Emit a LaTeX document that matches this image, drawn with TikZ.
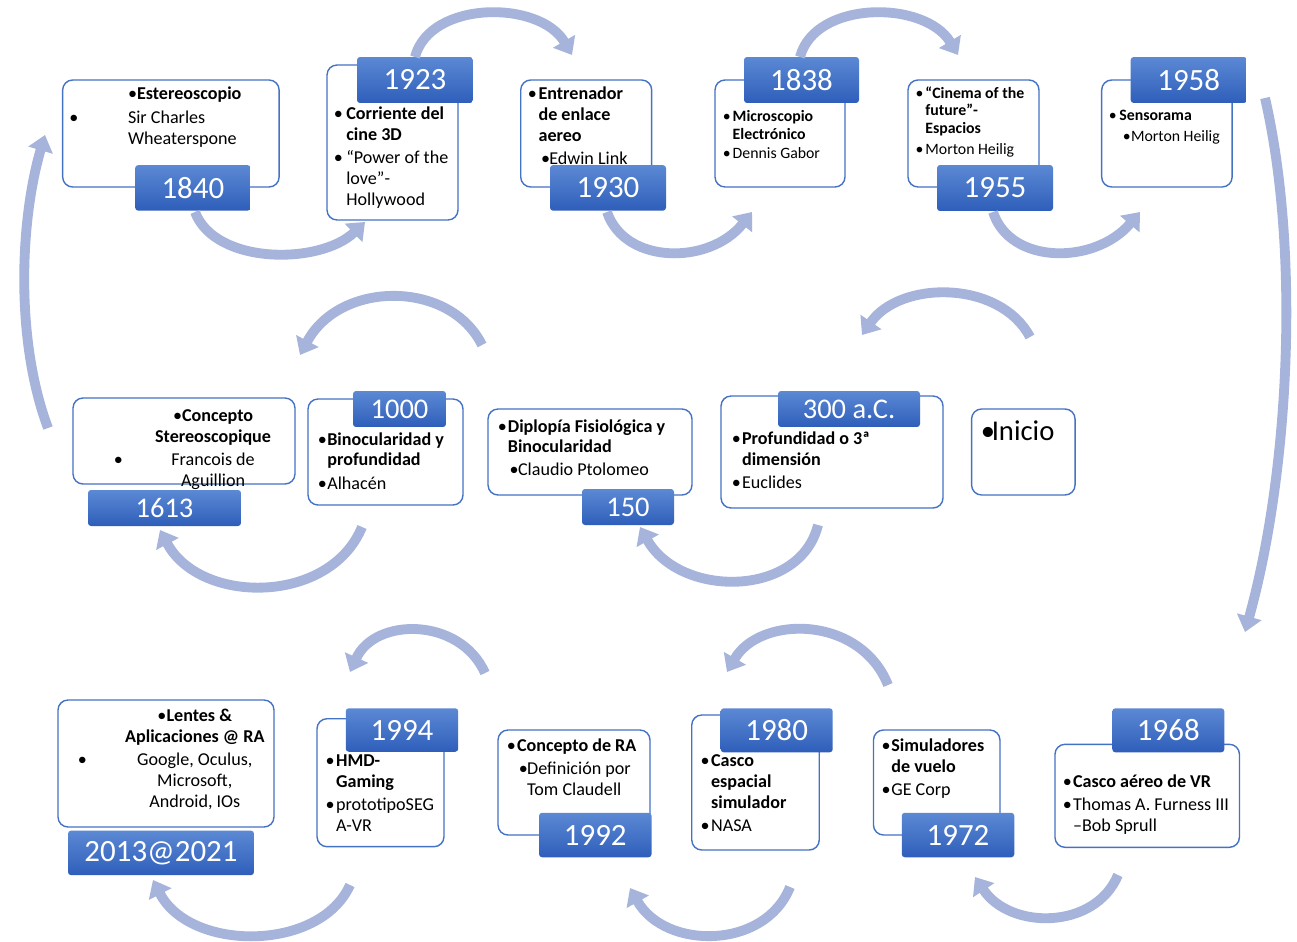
\documentclass[tikz,border=0pt]{standalone}
\usepackage{fontspec}
\setmainfont{Carlito}
\usetikzlibrary{arrows.meta}
\definecolor{cardblue}{RGB}{68,114,196}
\definecolor{yrtop}{RGB}{92,137,212}
\definecolor{yrbot}{RGB}{46,94,186}
\definecolor{arcblue}{RGB}{166,179,218}

\begin{document}
\begin{tikzpicture}[x=0.02cm, y=-0.02cm,
  card/.style={draw=cardblue, line width=0.8pt, fill=white, rounded corners=0.2cm, inner sep=0pt},
  yr/.style={rounded corners=0.06cm, top color=yrtop, bottom color=yrbot, text=white, inner sep=0pt, font=\fontsize{17.6}{20}\selectfont},
  yrs/.style={yr, font=\fontsize{16.2}{18}\selectfont},
  txt/.style={anchor=base west, inner sep=0pt, font=\fontsize{10.3}{11.8}\selectfont},
  txts/.style={txt, font=\fontsize{9}{9.9}\selectfont},
  arc/.style={line width=5.6pt, draw=arcblue, -{Triangle[width=14pt,length=9pt]}}
]
\useasboundingbox (0,0) rectangle (1297,942);

% fila 1
\node[card, minimum width=4.33cm, minimum height=2.14cm] (c1840) at (170.9,133.5) {};
\node[card, minimum width=2.62cm, minimum height=3.10cm] (c1923) at (392.5,142.5) {};
\node[card, minimum width=2.62cm, minimum height=2.14cm] (c1930) at (586.2,133.5) {};
\node[card, minimum width=2.60cm, minimum height=2.14cm] (c1838) at (780,133.5) {};
\node[card, minimum width=2.62cm, minimum height=2.14cm] (c1955) at (973.5,133.5) {};
\node[card, minimum width=2.61cm, minimum height=2.14cm] (c1958) at (1166.9,133.5) {};

\node[txt] (t1840) at (69,100) {\begin{tabular}[t]{@{}p{33.4pt}@{}l@{}}
 & \textbullet\textbf{Estereoscopio}\\[1.8pt]
\textbullet & Sir Charles\\
 & Wheaterspone
\end{tabular}};
\node[txt] (t1923) at (333.5,120) {\begin{tabular}[t]{@{}p{7.1pt}@{}l@{}}
\textbullet & \textbf{Corriente del}\\
 & \textbf{cine 3D}\\[1.2pt]
\textbullet & “Power of the\\
 & love”-\\
 & Hollywood
\end{tabular}};
\node[txt] (t1930) at (527.5,100) {\begin{tabular}[t]{@{}p{6.1pt}@{}l@{}}
\textbullet & \textbf{Entrenador}\\
 & \textbf{de enlace}\\
 & \textbf{aereo}\\[1.4pt]
 & \hspace{1.5pt}\makebox[4.6pt][l]{\textbullet}Edwin Link
\end{tabular}};
\node[txts] (t1838) at (722.5,121.7) {\begin{tabular}[t]{@{}p{5.6pt}@{}l@{}}
\textbullet & \textbf{Microscopio}\\
 & \textbf{Electrónico}\\[1.4pt]
\textbullet & Dennis Gabor
\end{tabular}};
\node[txts] (t1955) at (915.2,98.3) {\begin{tabular}[t]{@{}p{5.6pt}@{}l@{}}
\textbullet & \textbf{“Cinema of the}\\
 & \textbf{future”-}\\
 & \textbf{Espacios}\\[2.2pt]
\textbullet & Morton Heilig
\end{tabular}};
\node[txts] (t1958) at (1108.5,120.7) {\begin{tabular}[t]{@{}p{6pt}@{}l@{}}
\textbullet & \textbf{Sensorama}\\[2pt]
 & \hspace{2pt}\makebox[4.6pt][l]{\textbullet}Morton Heilig
\end{tabular}};

\node[yr, minimum width=2.31cm, minimum height=0.91cm] (y1840) at (192.9,187.9) {1840};
\node[yr, minimum width=2.32cm, minimum height=0.92cm] (y1923) at (415,80) {1923};
\node[yr, minimum width=2.32cm, minimum height=0.91cm] (y1930) at (608,187.9) {1930};
\node[yr, minimum width=2.30cm, minimum height=0.92cm] (y1838) at (801.5,80) {1838};
\node[yr, minimum width=2.32cm, minimum height=0.92cm] (y1955) at (995,188) {1955};
\node[yr, minimum width=2.32cm, minimum height=0.92cm] (y1958) at (1188.7,80) {1958};

% fila 2
\node[card, minimum width=4.44cm, minimum height=1.72cm] (c1613) at (184,441) {};
\node[card, minimum width=3.10cm, minimum height=2.12cm] (c1000) at (385.5,452) {};
\node[card, minimum width=4.08cm, minimum height=1.72cm] (c150) at (590,452) {};
\node[card, minimum width=4.44cm, minimum height=2.24cm] (c300) at (832,452) {};
\node[card, minimum width=2.07cm, minimum height=1.72cm] (cini) at (1023.3,452) {};

\node[txt] (t1613) at (113.5,421.7) {\begin{tabular}[t]{@{}p{23.5pt}@{}c@{}}
 & \textbullet\textbf{Concepto}\\
 & \textbf{Stereoscopique}\\[1.2pt]
\textbullet & Francois de\\
 & Aguillion
\end{tabular}};
\node[txt] (t1000) at (317.5,445) {\begin{tabular}[t]{@{}p{5.4pt}@{}l@{}}
\textbullet & \textbf{Binocularidad y}\\
 & \textbf{profundidad}\\[1.8pt]
\textbullet & Alhacén
\end{tabular}};
\node[txt] (t150) at (497.5,432) {\begin{tabular}[t]{@{}p{5.7pt}@{}l@{}}
\textbullet & \textbf{Diplopía Fisiológica y}\\
 & \textbf{Binocularidad}\\[1.2pt]
 & \hspace{1pt}\makebox[4.8pt][l]{\textbullet}Claudio Ptolomeo
\end{tabular}};
\node[txt] (t300) at (731.5,444.5) {\begin{tabular}[t]{@{}p{5.8pt}@{}l@{}}
\textbullet & \textbf{Profundidad o 3ª}\\
 & \textbf{dimensión}\\[1.5pt]
\textbullet & Euclides
\end{tabular}};
\node[txt, font=\fontsize{16.3}{18}\selectfont] (tini) at (980.5,440) {\makebox[6.2pt][l]{\textbullet}Inicio};

\node[yrs, minimum width=3.06cm, minimum height=0.72cm] (y1613) at (164.5,508) {1613};
\node[yrs, minimum width=1.86cm, minimum height=0.72cm] (y1000) at (399.5,409) {1000};
\node[yrs, minimum width=1.84cm, minimum height=0.72cm] (y150) at (628,507) {150};
\node[yrs, minimum width=2.84cm, minimum height=0.72cm] (y300) at (849,409) {300 a.C.};

% fila 3
\node[card, minimum width=4.32cm, minimum height=2.54cm] (c2013) at (166,763.5) {};
\node[card, minimum width=2.54cm, minimum height=2.56cm] (c1994) at (380.5,782.7) {};
\node[card, minimum width=3.04cm, minimum height=2.10cm] (c1992) at (574,782.5) {};
\node[card, minimum width=2.55cm, minimum height=2.70cm] (c1980) at (755.5,782.5) {};
\node[card, minimum width=2.53cm, minimum height=2.10cm] (c1972) at (936.7,782.5) {};
\node[card, minimum width=3.69cm, minimum height=2.06cm] (c1968) at (1147.2,795.8) {};

\node[txt] (t2013) at (77.5,721.7) {\begin{tabular}[t]{@{}p{26.9pt}@{}c@{}}
 & \textbullet\textbf{Lentes \&}\\
 & \textbf{Aplicaciones @ RA}\\[1.4pt]
\textbullet & Google, Oculus,\\
 & Microsoft,\\
 & Android, IOs
\end{tabular}};
\node[txt] (t1994) at (325.2,766.7) {\begin{tabular}[t]{@{}p{6pt}@{}l@{}}
\textbullet & \textbf{HMD-}\\
 & \textbf{Gaming}\\[1.6pt]
\textbullet & prototipoSEG\\
 & A-VR
\end{tabular}};
\node[txt] (t1992) at (506.5,751) {\begin{tabular}[t]{@{}p{5.8pt}@{}l@{}}
\textbullet & \textbf{Concepto de RA}\\[1.8pt]
 & \hspace{1pt}\makebox[4.8pt][l]{\textbullet}Definición por\\
 & \hspace{5.8pt}Tom Claudell
\end{tabular}};
\node[txt] (t1980) at (700.2,766.7) {\begin{tabular}[t]{@{}p{6pt}@{}l@{}}
\textbullet & \textbf{Casco}\\
 & \textbf{espacial}\\
 & \textbf{simulador}\\[1.4pt]
\textbullet & NASA
\end{tabular}};
\node[txt] (t1972) at (881.2,751.7) {\begin{tabular}[t]{@{}p{5.6pt}@{}l@{}}
\textbullet & \textbf{Simuladores}\\
 & \textbf{de vuelo}\\[1.4pt]
\textbullet & GE Corp
\end{tabular}};
\node[txt] (t1968) at (1062.5,787.3) {\begin{tabular}[t]{@{}p{5.8pt}@{}l@{}}
\textbullet & \textbf{Casco aéreo de VR}\\[1.6pt]
\textbullet & Thomas A. Furness III\\
 & –Bob Sprull
\end{tabular}};

\node[yr, minimum width=3.72cm, minimum height=0.89cm] (y2013) at (161,852.9) {2013@2021};
\node[yr, minimum width=2.25cm, minimum height=0.87cm] (y1994) at (402,730) {1994};
\node[yr, minimum width=2.25cm, minimum height=0.89cm] (y1992) at (595.3,835) {1992};
\node[yr, minimum width=2.24cm, minimum height=0.88cm] (y1980) at (776.7,730.3) {1980};
\node[yr, minimum width=2.25cm, minimum height=0.89cm] (y1972) at (958,835) {1972};
\node[yr, minimum width=2.24cm, minimum height=0.88cm] (y1968) at (1168.3,730.3) {1968};

% flechas curvas
\coordinate (a1s) at (195,212);   \coordinate (a1e) at (365,222);
\coordinate (a2s) at (415,57);    \coordinate (a2e) at (572,55);
\coordinate (a3s) at (607,212);   \coordinate (a3e) at (752,212);
\coordinate (a4s) at (800,57);    \coordinate (a4e) at (958,55);
\coordinate (a5s) at (993,212);   \coordinate (a5e) at (1140,212);
\coordinate (a6s) at (1265,98);   \coordinate (a6e) at (1245,632);
\coordinate (a7s) at (1030,337);  \coordinate (a7e) at (862,335);
\coordinate (a8s) at (818,525);   \coordinate (a8e) at (640,527);
\coordinate (a9s) at (482,345);   \coordinate (a9e) at (300,355);
\coordinate (a10s) at (362,527);  \coordinate (a10e) at (160,530);
\coordinate (a11s) at (48,428);   \coordinate (a11e) at (45,135);
\coordinate (a12s) at (1118,875); \coordinate (a12e) at (975,877);
\coordinate (a13s) at (888,685);  \coordinate (a13e) at (727,672);
\coordinate (a14s) at (790,887);  \coordinate (a14e) at (630,888);
\coordinate (a15s) at (485,673);  \coordinate (a15e) at (350,672);
\coordinate (a16s) at (350,885);  \coordinate (a16e) at (153,880);

\draw[arc] (a1s) .. controls (215,265) and (320,265) .. (a1e);
\draw[arc] (a2s) .. controls (430,0) and (540,0) .. (a2e);
\draw[arc] (a3s) .. controls (625,265) and (710,265) .. (a3e);
\draw[arc] (a4s) .. controls (815,0) and (925,0) .. (a4e);
\draw[arc] (a5s) .. controls (1010,265) and (1095,265) .. (a5e);
\draw[arc] (a6s) .. controls (1300,250) and (1290,470) .. (a6e);
\draw[arc] (a7s) .. controls (1000,280) and (900,280) .. (a7e);
\draw[arc] (a8s) .. controls (800,598) and (680,598) .. (a8e);
\draw[arc] (a9s) .. controls (450,280) and (340,280) .. (a9e);
\draw[arc] (a10s) .. controls (330,605) and (200,605) .. (a10e);
\draw[arc] (a11s) .. controls (15,340) and (20,220) .. (a11e);
\draw[arc] (a12s) .. controls (1095,930) and (1010,930) .. (a12e);
\draw[arc] (a13s) .. controls (860,615) and (760,615) .. (a13e);
\draw[arc] (a14s) .. controls (765,950) and (665,950) .. (a14e);
\draw[arc] (a15s) .. controls (460,617) and (375,617) .. (a15e);
\draw[arc] (a16s) .. controls (320,952) and (190,952) .. (a16e);
\end{tikzpicture}
\end{document}
